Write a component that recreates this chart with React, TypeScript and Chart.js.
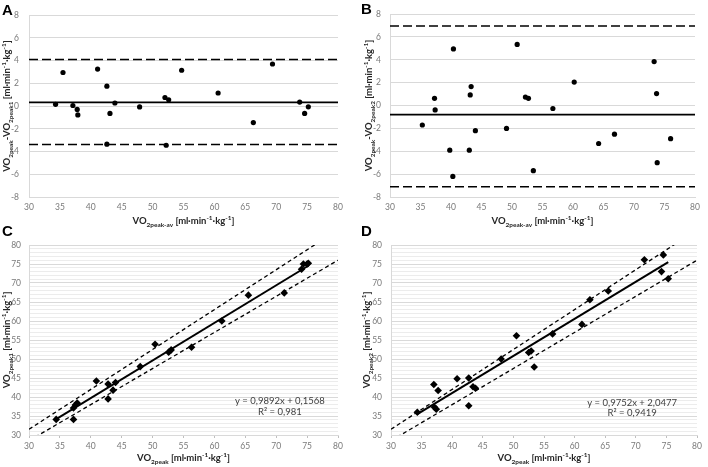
import React, { useEffect, useRef } from "react";
import { Chart, registerables } from "chart.js";

Chart.register(...registerables);

// ---------- data ----------
const xMin = 30;
const xMax = 80;
const xStep = 5;

// Panel A (Bland-Altman, test 1)
const avgA = [34.3, 35.5, 37.1, 37.8, 37.9, 41.1, 42.6, 42.6, 43.1, 43.9, 47.9, 52.0, 52.2, 52.6, 54.7, 60.6, 66.3, 69.4, 73.8, 74.6, 75.2];
const diffA = [0.15, 2.95, 0.05, -0.3, -0.78, 3.25, 1.75, -3.35, -0.65, 0.27, -0.08, 0.75, -3.45, 0.55, 3.15, 1.15, -1.45, 3.7, 0.35, -0.65, -0.07];
const meanA = 0.33;
const upperA = 4.09;
const lowerA = -3.38;

// Panel B (Bland-Altman, test 2)
const avgB = [35.3, 37.3, 37.4, 39.8, 40.3, 40.4, 43.0, 43.15, 43.3, 44.0, 49.1, 50.85, 52.2, 52.7, 53.5, 56.7, 60.2, 64.2, 66.8, 73.3, 73.7, 73.8, 76.0];
const diffB = [-1.7, 0.63, -0.38, -3.9, -6.2, 4.95, -3.9, 0.93, 1.66, -2.2, -2.0, 5.35, 0.74, 0.63, -5.7, -0.26, 2.05, -3.32, -2.5, 3.85, 1.05, -5.0, -2.9];
const meanB = -0.79;
const upperB = 6.95;
const lowerB = -7.1;

// Panel C (regression, test 1)
const xC = [34.4, 37.2, 37.2, 37.5, 37.8, 40.9, 42.8, 42.8, 43.6, 44.0, 48.0, 50.4, 52.6, 53.0, 56.3, 61.2, 65.5, 71.3, 74.1, 74.4, 75.0, 75.2];
const yC = [34.1, 34.1, 37.1, 37.9, 38.4, 44.2, 43.4, 39.5, 41.8, 43.8, 48.0, 53.9, 51.8, 52.4, 53.1, 60.0, 66.8, 67.4, 73.6, 75.0, 75.0, 75.2];
const slopeC = 0.9892;
const interceptC = 0.1568;
const r2C = 0.981;

// Panel D (regression, test 2)
const xD = [34.3, 37.0, 37.1, 37.4, 37.7, 40.8, 42.7, 42.7, 43.4, 43.8, 48.0, 50.5, 52.5, 52.9, 53.4, 56.4, 61.2, 62.5, 65.5, 71.4, 74.2, 74.5, 75.3];
const yD = [36.0, 43.3, 37.3, 36.8, 41.7, 44.8, 45.0, 37.7, 42.7, 42.3, 50.0, 56.1, 51.7, 52.1, 47.9, 56.6, 59.1, 65.6, 67.9, 76.1, 73.0, 77.4, 71.1];
const slopeD = 0.9752;
const interceptD = 2.0477;
const r2D = 0.9419;

const bandFactor = 0.05; // dashed lines: identity ±5 %

// ---------- text ----------
type Seg = { t: string; m?: "sub" | "sup" };
const unitSegs: Seg[] = [{ t: " [ml·min" }, { t: "-1", m: "sup" }, { t: "·kg" }, { t: "-1", m: "sup" }, { t: "]" }];
const xTitleBA: Seg[] = [{ t: "VO" }, { t: "2peak-av", m: "sub" }, ...unitSegs];
const yTitleA: Seg[] = [{ t: "VO" }, { t: "2peak", m: "sub" }, { t: "-VO" }, { t: "2peak1", m: "sub" }, ...unitSegs];
const yTitleB: Seg[] = [{ t: "VO" }, { t: "2peak", m: "sub" }, { t: "-VO" }, { t: "2peak2", m: "sub" }, ...unitSegs];
const xTitleReg: Seg[] = [{ t: "VO" }, { t: "2peak", m: "sub" }, ...unitSegs];
const yTitleC: Seg[] = [{ t: "VO" }, { t: "2peak1", m: "sub" }, ...unitSegs];
const yTitleD: Seg[] = [{ t: "VO" }, { t: "2peak2", m: "sub" }, ...unitSegs];

const TICK_COLOR = "#7a7a7a";
const GRID = "#d9d9d9";
const GRID_MINOR = "#ececec";
const FONT = "Lato, 'Open Sans', sans-serif";
const TITLE_FONT = "Lato, 'Open Sans', sans-serif";

function drawRich(
  ctx: CanvasRenderingContext2D,
  segs: Seg[],
  x: number,
  y: number,
  size: number,
  weight: string,
  color: string,
  rotate: boolean
) {
  ctx.save();
  ctx.translate(x, y);
  if (rotate) ctx.rotate(-Math.PI / 2);
  const small = size * 0.68;
  let w = 0;
  const widths: number[] = [];
  for (const s of segs) {
    ctx.font = `${weight} ${s.m ? small : size}px ${TITLE_FONT}`;
    const mw = ctx.measureText(s.t).width;
    widths.push(mw);
    w += mw;
  }
  let cx = -w / 2;
  ctx.textAlign = "left";
  ctx.textBaseline = "alphabetic";
  ctx.fillStyle = color;
  const base = size * 0.36;
  segs.forEach((s, i) => {
    ctx.font = `${weight} ${s.m ? small : size}px ${TITLE_FONT}`;
    const dy = s.m === "sub" ? size * 0.28 : s.m === "sup" ? -size * 0.42 : 0;
    ctx.fillText(s.t, cx, base + dy);
    cx += widths[i];
  });
  ctx.restore();
}

const fmt = (v: number, d: number) => v.toFixed(d).replace(".", ",");

// ---------- dataset builders ----------
function baDatasets(avg: number[], diff: number[], mean: number, up: number, lo: number) {
  const hline = (v: number, dash: number[], width: number) => ({
    data: [
      { x: xMin, y: v },
      { x: xMax, y: v },
    ],
    showLine: true,
    pointRadius: 0,
    borderColor: "#000",
    borderWidth: width,
    borderDash: dash,
    clip: 0,
  });
  return [
    {
      data: avg.map((x, i) => ({ x, y: diff[i] })),
      pointStyle: "circle",
      pointRadius: 2.6,
      borderWidth: 0,
      backgroundColor: "#000",
      borderColor: "#000",
    },
    hline(mean, [], 1.8),
    hline(up, [9, 4], 1.5),
    hline(lo, [9, 4], 1.5),
  ];
}

function regDatasets(xs: number[], ys: number[], slope: number, intercept: number) {
  const lo = Math.min(...xs);
  const hi = Math.max(...xs);
  const band = (f: number) => ({
    data: [
      { x: xMin, y: xMin * f },
      { x: xMax, y: xMax * f },
    ],
    showLine: true,
    pointRadius: 0,
    borderColor: "#000",
    borderWidth: 1.3,
    borderDash: [4, 3],
    clip: 0,
  });
  return [
    {
      data: xs.map((x, i) => ({ x, y: ys[i] })),
      pointStyle: "rectRot",
      pointRadius: 3.8,
      borderWidth: 0,
      backgroundColor: "#000",
      borderColor: "#000",
    },
    {
      data: [
        { x: lo, y: slope * lo + intercept },
        { x: hi, y: slope * hi + intercept },
      ],
      showLine: true,
      pointRadius: 0,
      borderColor: "#000",
      borderWidth: 2,
    },
    band(1 + bandFactor),
    band(1 - bandFactor),
  ];
}

// ---------- panel ----------
interface PanelCfg {
  left: number;
  top: number;
  w: number;
  h: number;
  padTop: number;
  padRight: number;
  yW: number;
  xH: number;
  yMin: number;
  yMax: number;
  yStep: number;
  minor: boolean;
  yPad: number;
  xPad: number;
  letter: string;
  letterX: number;
  letterY: number;
  xTitle: Seg[];
  yTitle: Seg[];
  xTitleY: number;
  yTitleX: number;
  datasets: any[];
  eq?: { lines: string[]; x: number; y: number[] };
}

function Panel({ cfg }: { cfg: PanelCfg }) {
  const ref = useRef<HTMLCanvasElement | null>(null);
  useEffect(() => {
    if (!ref.current) return;
    const tickFont = { family: FONT, size: 8.5 };
    const overlay = {
      id: "overlay_" + cfg.letter,
      afterDraw(chart: any) {
        const ctx = chart.ctx as CanvasRenderingContext2D;
        const a = chart.chartArea;
        ctx.save();
        ctx.font = `bold 15px 'Liberation Sans', Arial, sans-serif`;
        ctx.fillStyle = "#000";
        ctx.textAlign = "left";
        ctx.textBaseline = "alphabetic";
        ctx.fillText(cfg.letter, cfg.letterX, cfg.letterY);
        ctx.restore();
        drawRich(ctx, cfg.xTitle, (a.left + a.right) / 2, cfg.xTitleY, 9.5, "bold", "#262626", false);
        drawRich(ctx, cfg.yTitle, cfg.yTitleX, (a.top + a.bottom) / 2, 9.5, "bold", "#262626", true);
        if (cfg.eq) {
          const xs = chart.scales.x;
          const ys = chart.scales.y;
          ctx.save();
          ctx.font = `9.5px ${FONT}`;
          ctx.fillStyle = "#404040";
          ctx.textAlign = "center";
          ctx.textBaseline = "middle";
          cfg.eq.lines.forEach((ln, i) => {
            ctx.fillText(ln, xs.getPixelForValue(cfg.eq!.x), ys.getPixelForValue(cfg.eq!.y[i]));
          });
          ctx.restore();
        }
      },
    };
    const chart = new Chart(ref.current, {
      type: "scatter",
      data: { datasets: cfg.datasets },
      options: {
        responsive: false,
        animation: false,
        events: [],
        layout: { padding: { top: cfg.padTop, right: cfg.padRight, left: 0, bottom: 0 } },
        plugins: { legend: { display: false }, tooltip: { enabled: false } },
        scales: {
          x: {
            type: "linear",
            min: xMin,
            max: xMax,
            ticks: {
              stepSize: xStep,
              color: TICK_COLOR,
              font: tickFont,
              padding: cfg.xPad,
              maxRotation: 0,
              autoSkip: false,
            },
            grid: {
              display: cfg.minor,
              drawOnChartArea: false,
              drawTicks: cfg.minor,
              tickLength: 3,
              color: "#bfbfbf",
            },
            border: { display: true, color: GRID, width: 1 },
            afterFit: (s: any) => {
              s.height = cfg.xH;
            },
          },
          y: {
            type: "linear",
            min: cfg.yMin,
            max: cfg.yMax,
            ticks: {
              stepSize: cfg.yStep,
              color: TICK_COLOR,
              font: tickFont,
              padding: cfg.yPad,
              autoSkip: false,
              callback: (v: any) => (cfg.minor ? (Number(v) % 5 === 0 ? String(v) : "") : String(v)),
            },
            grid: {
              drawTicks: false,
              color: (c: any) => (cfg.minor && c.tick && Number(c.tick.value) % 5 !== 0 ? GRID_MINOR : GRID),
              lineWidth: 1,
            },
            border: { display: true, color: GRID, width: 1 },
            afterFit: (s: any) => {
              s.width = cfg.yW;
            },
          },
        },
      } as any,
      plugins: [overlay],
    });
    return () => chart.destroy();
  }, [cfg]);
  return (
    <canvas
      ref={ref}
      width={cfg.w}
      height={cfg.h}
      style={{ position: "absolute", left: cfg.left, top: cfg.top, width: cfg.w, height: cfg.h }}
    />
  );
}

const panels: PanelCfg[] = [
  {
    left: 0, top: 0, w: 354, h: 230,
    padTop: 8, padRight: 16, yW: 29, xH: 33,
    yMin: -8, yMax: 8, yStep: 2, minor: false, yPad: 10, xPad: 5,
    letter: "A", letterX: 2, letterY: 15,
    xTitle: xTitleBA, yTitle: yTitleA, xTitleY: 221, yTitleX: 7,
    datasets: baDatasets(avgA, diffA, meanA, upperA, lowerA),
  },
  {
    left: 354, top: 0, w: 354, h: 230,
    padTop: 6, padRight: 13, yW: 36, xH: 33,
    yMin: -8, yMax: 8, yStep: 2, minor: false, yPad: 9, xPad: 5,
    letter: "B", letterX: 7, letterY: 14,
    xTitle: xTitleBA, yTitle: yTitleB, xTitleY: 221, yTitleX: 15,
    datasets: baDatasets(avgB, diffB, meanB, upperB, lowerB),
  },
  {
    left: 0, top: 220, w: 354, h: 247,
    padTop: 25, padRight: 16, yW: 29, xH: 32,
    yMin: 30, yMax: 80, yStep: 1, minor: true, yPad: 8, xPad: 3,
    letter: "C", letterX: 2, letterY: 16,
    xTitle: xTitleReg, yTitle: yTitleC, xTitleY: 238, yTitleX: 7,
    datasets: regDatasets(xC, yC, slopeC, interceptC),
    eq: {
      lines: [`y = ${fmt(slopeC, 4)}x + ${fmt(interceptC, 4)}`, `R² = ${fmt(r2C, 3)}`],
      x: 70.6,
      y: [38.9, 36.0],
    },
  },
  {
    left: 354, top: 220, w: 354, h: 247,
    padTop: 25, padRight: 11, yW: 37, xH: 32,
    yMin: 30, yMax: 80, yStep: 1, minor: true, yPad: 9, xPad: 3,
    letter: "D", letterX: 7, letterY: 16,
    xTitle: xTitleReg, yTitle: yTitleD, xTitleY: 238, yTitleX: 13,
    datasets: regDatasets(xD, yD, slopeD, interceptD),
    eq: {
      lines: [`y = ${fmt(slopeD, 4)}x + ${fmt(interceptD, 4)}`, `R² = ${fmt(r2D, 4)}`],
      x: 69.4,
      y: [38.4, 35.8],
    },
  },
];

export default function App() {
  return (
    <div style={{ position: "absolute", left: 0, top: 0, width: 708, height: 467, background: "#fff", overflow: "hidden" }}>
      {panels.map((p) => (
        <Panel key={p.letter} cfg={p} />
      ))}
    </div>
  );
}
